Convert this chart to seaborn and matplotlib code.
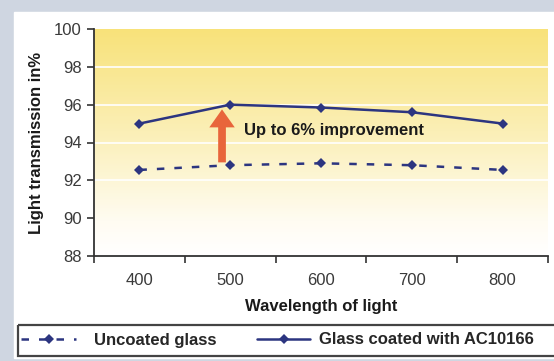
import numpy as np
import pandas as pd
import seaborn as sns
import matplotlib.pyplot as plt
from matplotlib.lines import Line2D
from matplotlib.patches import Rectangle, FancyArrow
from matplotlib.colors import LinearSegmentedColormap

# Transmission data
wavelengths = ["400", "500", "600", "700", "800"]
uncoated = [92.55, 92.8, 92.9, 92.8, 92.55]
coated = [95.0, 96.0, 95.85, 95.6, 95.0]
series_names = ["Uncoated glass", "Glass coated with AC10166"]
y_ticks = [88, 90, 92, 94, 96, 98, 100]

df = pd.DataFrame({
    "wavelength": wavelengths * 2,
    "transmission": uncoated + coated,
    "series": [series_names[0]] * 5 + [series_names[1]] * 5,
})

sns.set_theme(style="white")
plt.rcParams["font.family"] = ["Liberation Sans", "DejaVu Sans"]

W, H = 554, 361
fig = plt.figure(figsize=(W / 100, H / 100), dpi=100)

# Frame behind the chart panel
bg = fig.add_axes([0, 0, 1, 1], zorder=-10)
bg.set_xlim(0, W)
bg.set_ylim(H, 0)
bg.axis("off")
bg.add_patch(Rectangle((0, 0), W, H, color="#cfd6e1"))
top_grad = np.linspace(0, 1, 40).reshape(-1, 1)
bg.imshow(top_grad, extent=(0, W, 12, 0), aspect="auto",
          cmap=LinearSegmentedColormap.from_list("tb", ["#d3dae4", "#8f97a4"]))
bg.add_patch(Rectangle((14, 12), W - 14, 346, color="white"))

line_color = "#2c3580"

ax = fig.add_axes([94 / W, 1 - 256 / H, (548 - 94) / W, (256 - 29) / H])
ax.set_ylim(88, 100)
ax.set_xlim(-0.5, 4.5)

# Yellow-to-white plot background
grad = np.linspace(0, 1, 200).reshape(-1, 1)
cmap = LinearSegmentedColormap.from_list(
    "bgy", [(0, "#f8e27a"), (0.45, "#fbefb6"), (0.85, "#fffcf2"), (1, "#ffffff")])
ax.imshow(grad, extent=(-0.5, 4.5, 88, 100), aspect="auto", cmap=cmap, zorder=0)
for yv in [92, 94, 96, 98]:
    ax.axhline(yv, color="white", lw=1.2, zorder=1)

sns.lineplot(data=df, x="wavelength", y="transmission", hue="series", style="series",
             palette=[line_color, line_color],
             dashes={series_names[0]: (3, 4), series_names[1]: ""},
             markers={series_names[0]: "D", series_names[1]: "D"},
             markersize=5, linewidth=1.8, markeredgewidth=0,
             legend=False, ax=ax, zorder=3)

# Improvement arrow and note
ax.add_patch(FancyArrow(0.91, 92.95, 0, 2.8, width=0.085, head_width=0.28,
                        head_length=0.95, length_includes_head=True,
                        color="#e8653b", lw=0, zorder=4))
ax.text(1.15, 94.65, "Up to 6% improvement", fontsize=12, fontweight="bold",
        color="#1a1a1a", va="center", ha="left", zorder=5)

ax.set_xticks([0, 1, 2, 3, 4])
ax.set_xticklabels(wavelengths)
ax.set_xticks(np.arange(-0.5, 5, 1), minor=True)
ax.tick_params(axis="x", which="major", length=0, pad=12, labelsize=12, labelcolor="#3a3a3a")
ax.tick_params(axis="x", which="minor", length=5, width=1.2, color="#333333", direction="out")
ax.set_yticks(y_ticks)
ax.tick_params(axis="y", length=5, width=1.2, color="#333333", direction="out",
               labelsize=12, labelcolor="#3a3a3a", pad=4)
ax.tick_params(bottom=True, left=True, which="both")

for side in ["top", "right"]:
    ax.spines[side].set_visible(False)
for side in ["left", "bottom"]:
    ax.spines[side].set_color("#333333")
    ax.spines[side].set_linewidth(1.3)

ax.set_xlabel("Wavelength of light", fontsize=12, fontweight="bold", color="#1a1a1a", labelpad=8)
ax.set_ylabel("Light transmission in%", fontsize=12, fontweight="bold", color="#1a1a1a", labelpad=7)

# Legend strip at the bottom
bg.add_patch(Rectangle((18, 325), W - 18 + 5, 31, fill=False, ec="#444444", lw=1.6))
handles = [
    Line2D([], [], color=line_color, lw=1.8, dashes=(3, 4), marker="D", markersize=5, markeredgewidth=0),
    Line2D([], [], color=line_color, lw=1.8, marker="D", markersize=5, markeredgewidth=0),
]
legend_font = {"family": "Liberation Sans", "weight": "bold", "size": 12}
leg1 = fig.legend(handles[:1], series_names[:1], loc="center left",
                  bbox_to_anchor=(21 / W, 1 - 340 / H), frameon=False,
                  borderaxespad=0, borderpad=0, handlelength=3.3, handletextpad=1.1,
                  prop=legend_font)
fig.legend(handles[1:], series_names[1:], loc="center left",
           bbox_to_anchor=(257 / W, 1 - 340 / H), frameon=False,
           borderaxespad=0, borderpad=0, handlelength=3.2, handletextpad=0.5,
           prop=legend_font)

fig.savefig("out.png", dpi=100)
